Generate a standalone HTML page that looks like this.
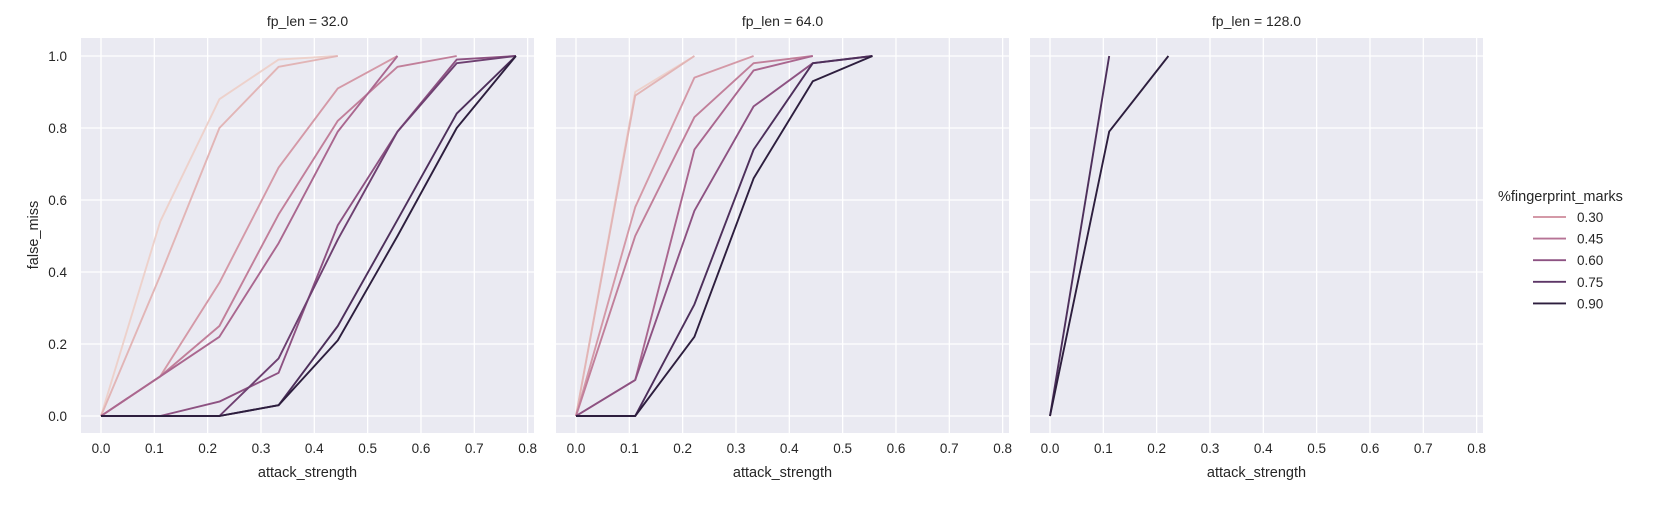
<!DOCTYPE html>
<html><head><meta charset="utf-8"><style>
body{margin:0;background:#fff;}
svg text{font-family:"Liberation Sans","DejaVu Sans",sans-serif;fill:#262626;}
</style></head><body>
<svg id="chart" width="1655" height="500" xmlns="http://www.w3.org/2000/svg"></svg>
<script>
const panelTitles = ["fp_len = 32.0","fp_len = 64.0","fp_len = 128.0"];
const xTicks = [0,0.1,0.2,0.3,0.4,0.5,0.6,0.7,0.8];
const yTicks = [0,0.2,0.4,0.6,0.8,1.0];
const attackSteps = [0,0.111,0.222,0.333,0.444,0.556,0.667,0.778];
const legendHues = [0.30,0.45,0.60,0.75,0.90];
const hueMin = 0.1, hueMax = 0.9;
// panel 1 series
const p1Hues = [0.1,0.2,0.3,0.4,0.5,0.6,0.7,0.8,0.9];
const p1Vals = [
 [0,0.54,0.88,0.99,1.0],
 [0,0.39,0.80,0.97,1.0],
 [0,0.11,0.37,0.69,0.91,1.0],
 [0,0.11,0.25,0.56,0.82,0.97,1.0],
 [0,0.11,0.22,0.48,0.79,1.0],
 [0,0,0.04,0.12,0.53,0.79,0.99,1.0],
 [0,0,0,0.16,0.49,0.79,0.98,1.0],
 [0,0,0,0.03,0.25,0.545,0.84,1.0],
 [0,0,0,0.03,0.21,0.50,0.80,1.0]
];
// panel 2 series
const p2Hues = [0.1,0.2,0.3,0.4,0.5,0.6,0.8,0.9];
const p2Vals = [
 [0,0.90,1.0],
 [0,0.89,1.0],
 [0,0.58,0.94,1.0],
 [0,0.50,0.83,0.98,1.0],
 [0,0.10,0.74,0.96,1.0],
 [0,0.10,0.57,0.86,0.98,1.0],
 [0,0,0.31,0.74,0.98,1.0],
 [0,0,0.22,0.66,0.93,1.0]
];
// panel 3 series
const p3Hues = [0.8,0.9];
const p3Vals = [
 [0,1.0],
 [0,0.79,1.0]
];

const NS="http://www.w3.org/2000/svg";
const svg=document.getElementById('chart');
function mk(tag,attrs,parent){const e=document.createElementNS(NS,tag);for(const k in attrs)e.setAttribute(k,attrs[k]);(parent||svg).appendChild(e);return e;}
function cube(v){
  const t=(v-hueMin)/(hueMax-hueMin);
  const x=0.85+t*(0.15-0.85);
  const a=0.8*x*(1-x)/2, phi=2*Math.PI*(0/3+0.4*x);
  const f=(p0,p1)=>Math.max(0,Math.min(1,x+a*(p0*Math.cos(phi)+p1*Math.sin(phi))));
  return `rgb(${Math.round(f(-0.14861,1.78277)*255)},${Math.round(f(-0.29227,-0.90649)*255)},${Math.round(f(1.97294,0)*255)})`;
}
const panelLefts=[81,556,1030], PW=453, PT=38, PB=433;
const allVals=[p1Vals,p2Vals,p3Vals], allHues=[p1Hues,p2Hues,p3Hues];
const yScale=v=>416-v*360;
panelLefts.forEach((L,pi)=>{
  const xScale=v=>L+20+v*533.3;
  const g=mk('g',{});
  
  
  const bg=mk('rect',{x:L,y:PT,width:PW,height:PB-PT,fill:'#eaeaf2'},g);
  
  
  xTicks.forEach(t=>{
    const gl=mk('line',{x1:xScale(t),x2:xScale(t),y1:PT,y2:PB,stroke:'#fff','stroke-width':1.3},g);
    
    
    const tl=mk('text',{x:xScale(t),y:PB+20,'font-size':13.5,'text-anchor':'middle'},g);
    tl.textContent=t.toFixed(1);
    
    
  });
  yTicks.forEach(t=>{
    const gl=mk('line',{x1:L,x2:L+PW,y1:yScale(t),y2:yScale(t),stroke:'#fff','stroke-width':1.3},g);
    
    
    if(pi===0){
      const tl=mk('text',{x:67,y:yScale(t)+5,'font-size':13.5,'text-anchor':'end'},g);
      tl.textContent=t.toFixed(1);
      
      
    }
  });
  const tt=mk('text',{x:L+PW/2,y:26,'font-size':14,'text-anchor':'middle'},g);
  tt.textContent=panelTitles[pi];
  
  
  const xl=mk('text',{x:L+PW/2,y:477,'font-size':14.5,'text-anchor':'middle'},g);
  xl.textContent='attack_strength';
  
  
  allVals[pi].forEach((vals,si)=>{
    const pts=vals.map((v,i)=>xScale(attackSteps[i]).toFixed(1)+','+yScale(v).toFixed(1)).join(' ');
    const pl=mk('polyline',{points:pts,fill:'none',stroke:cube(allHues[pi][si]),'stroke-width':1.9,'stroke-linejoin':'round'},g);
    
    
  });
});
const yl=mk('text',{x:0,y:0,'font-size':14.5,'text-anchor':'middle',transform:'translate(38,235) rotate(-90)'});
yl.textContent='false_miss';


const lg=mk('g',{});


const lt=mk('text',{x:1498,y:201,'font-size':14.5},lg);
lt.textContent='%fingerprint_marks';


legendHues.forEach((h,i)=>{
  const y=217+i*21.6;
  const ln=mk('line',{x1:1533,x2:1566,y1:y,y2:y,stroke:cube(h),'stroke-width':1.9},lg);
  
  
  const tx=mk('text',{x:1577,y:y+5,'font-size':13.5},lg);
  tx.textContent=h.toFixed(2);
  
  
});
</script>
</body></html>
